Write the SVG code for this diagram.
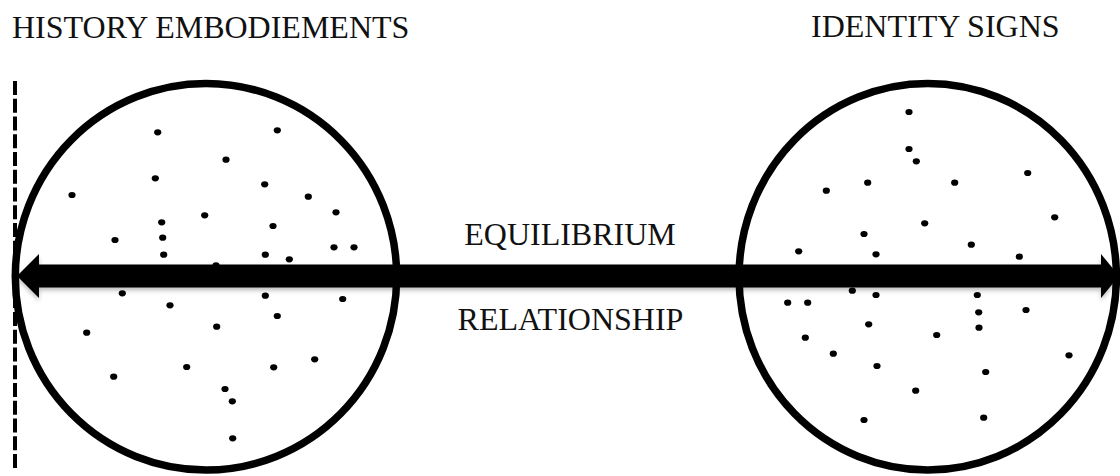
<svg xmlns="http://www.w3.org/2000/svg" width="1120" height="476" viewBox="0 0 1120 476">
<style>
.lbl{font-size:32px;fill:#111}
.ring{fill:none;stroke:#000;stroke-width:7.5}
.dot{fill:#000}
</style>
<defs>
<filter id="sh" x="-5%" y="-50%" width="110%" height="200%">
<feDropShadow dx="0" dy="3" stdDeviation="2" flood-color="#000" flood-opacity="0.25"/>
</filter>
<ellipse id="d" cx="0" cy="0" rx="3.6" ry="3.1"/>
</defs>
<rect width="1120" height="476" fill="#fff"/>
<g id="labels" font-family="'Liberation Serif', serif">
<text class="lbl" x="12" y="38">HISTORY EMBODIEMENTS</text>
<text class="lbl" x="811" y="37">IDENTITY SIGNS</text>
</g>
<g id="dashed-boundary">
<line x1="15" y1="81" x2="15" y2="468" stroke="#000" stroke-width="4" stroke-dasharray="14 3.76"/>
</g>
<g id="history-embodiments">
<ellipse class="ring" cx="206" cy="276.8" rx="190.7" ry="193.3"/>
<g class="dot">
<use href="#d" x="157.7" y="132.3"/>
<use href="#d" x="277.3" y="130.3"/>
<use href="#d" x="226" y="159.7"/>
<use href="#d" x="155.3" y="178.3"/>
<use href="#d" x="264.7" y="184.3"/>
<use href="#d" x="72" y="195"/>
<use href="#d" x="308.3" y="196.7"/>
<use href="#d" x="204.7" y="215.3"/>
<use href="#d" x="336" y="212.3"/>
<use href="#d" x="161.7" y="222.3"/>
<use href="#d" x="273" y="226"/>
<use href="#d" x="115" y="240"/>
<use href="#d" x="162.7" y="237.7"/>
<use href="#d" x="334" y="247.3"/>
<use href="#d" x="354" y="247.3"/>
<use href="#d" x="163.7" y="254.7"/>
<use href="#d" x="265.3" y="254.7"/>
<use href="#d" x="289.3" y="259.3"/>
<use href="#d" x="216" y="265.3"/>
<use href="#d" x="122.3" y="293.3"/>
<use href="#d" x="265.3" y="295.7"/>
<use href="#d" x="342.7" y="299"/>
<use href="#d" x="170" y="305.3"/>
<use href="#d" x="277.3" y="316"/>
<use href="#d" x="216.7" y="326.7"/>
<use href="#d" x="86.7" y="332.7"/>
<use href="#d" x="314.7" y="359.3"/>
<use href="#d" x="186.7" y="367"/>
<use href="#d" x="273.7" y="367.3"/>
<use href="#d" x="113.7" y="376.7"/>
<use href="#d" x="225" y="389"/>
<use href="#d" x="232.3" y="401.3"/>
<use href="#d" x="232.7" y="438.3"/>
</g>
</g>
<g id="identity-signs">
<ellipse class="ring" cx="927.7" cy="276.8" rx="188.7" ry="193.3"/>
<g class="dot">
<use href="#d" x="909" y="112"/>
<use href="#d" x="909" y="149"/>
<use href="#d" x="916.3" y="161.3"/>
<use href="#d" x="1027.7" y="173"/>
<use href="#d" x="867.7" y="182.7"/>
<use href="#d" x="954.7" y="182.7"/>
<use href="#d" x="826.3" y="190.7"/>
<use href="#d" x="1054.7" y="217.3"/>
<use href="#d" x="924.7" y="223.3"/>
<use href="#d" x="864" y="234"/>
<use href="#d" x="971.3" y="244.7"/>
<use href="#d" x="798.7" y="251.3"/>
<use href="#d" x="876" y="254.3"/>
<use href="#d" x="1019.3" y="256.7"/>
<use href="#d" x="852.3" y="290.7"/>
<use href="#d" x="876" y="295"/>
<use href="#d" x="977.3" y="295"/>
<use href="#d" x="787.7" y="302.7"/>
<use href="#d" x="807.7" y="302.7"/>
<use href="#d" x="978.7" y="312.3"/>
<use href="#d" x="1026" y="310"/>
<use href="#d" x="868.7" y="324.3"/>
<use href="#d" x="979" y="327.7"/>
<use href="#d" x="936.7" y="335"/>
<use href="#d" x="805.3" y="337.7"/>
<use href="#d" x="833.3" y="353.7"/>
<use href="#d" x="1069" y="355.3"/>
<use href="#d" x="877" y="366"/>
<use href="#d" x="985.7" y="372"/>
<use href="#d" x="915.7" y="390.7"/>
<use href="#d" x="864" y="420"/>
<use href="#d" x="983.7" y="417.7"/>
</g>
</g>
<g id="connectors">
<polygon filter="url(#sh)" fill="#000" points="17,276 39,254 39,264.5 1101,264.5 1101,254 1119,276 1101,298 1101,287.5 39,287.5 39,298"/>
</g>
<g id="edge-labels" font-family="'Liberation Serif', serif">
<text class="lbl" x="570" y="245" text-anchor="middle">EQUILIBRIUM</text>
<text class="lbl" x="570.5" y="330" text-anchor="middle">RELATIONSHIP</text>
</g>
</svg>
